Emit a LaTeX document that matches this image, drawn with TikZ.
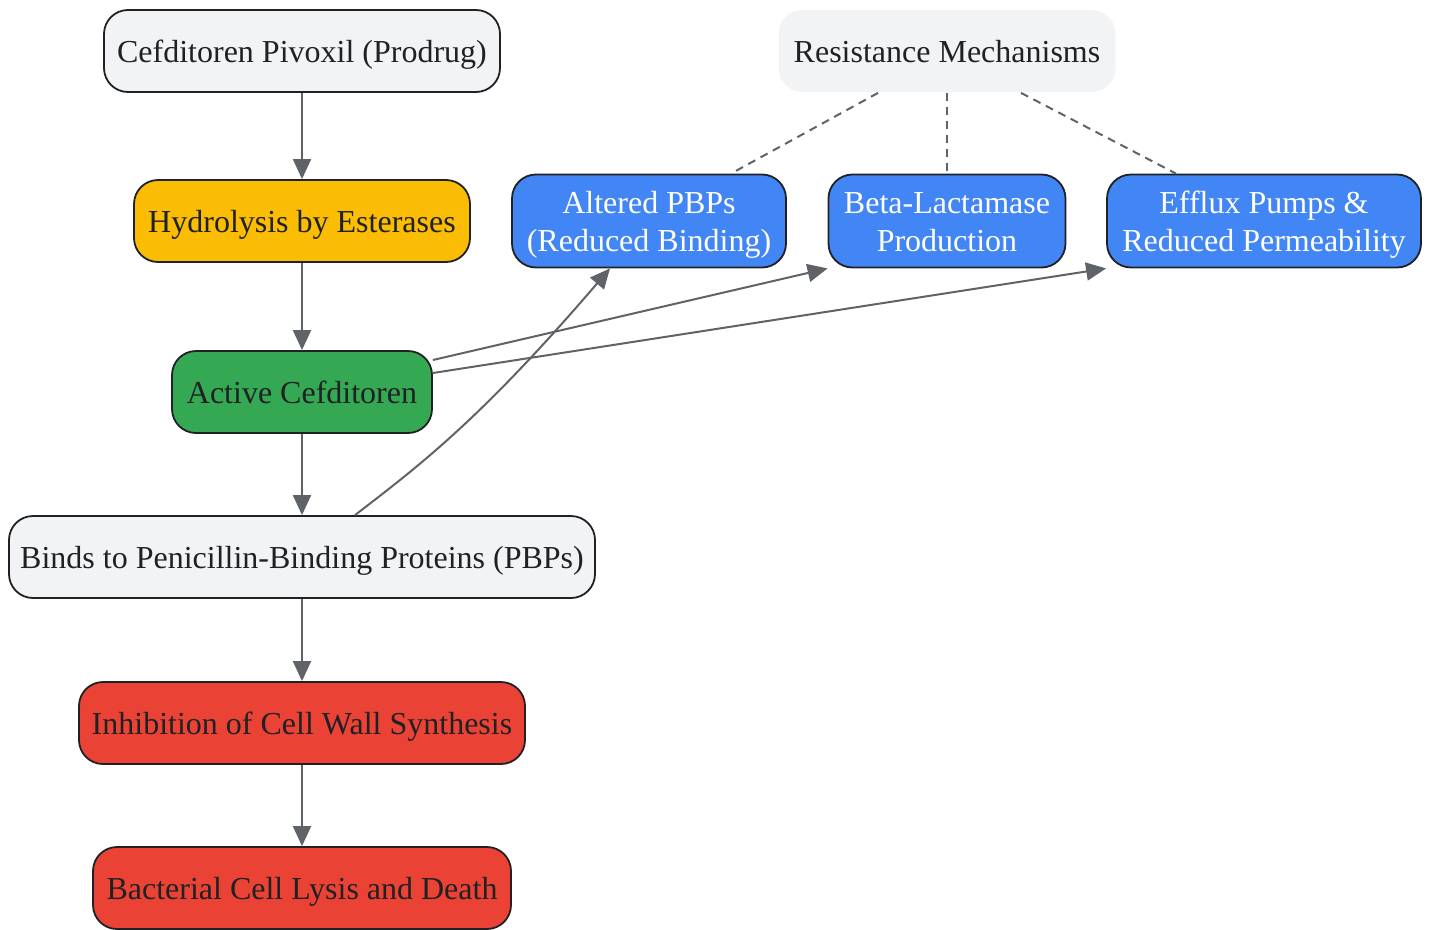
\documentclass[tikz,border=0pt]{standalone}
\usepackage{fontspec}
\setmainfont{Liberation Serif}
\usetikzlibrary{arrows.meta}
\definecolor{gbg}{HTML}{F1F3F4}
\definecolor{gyel}{HTML}{FBBC04}
\definecolor{ggrn}{HTML}{34A853}
\definecolor{gred}{HTML}{EA4335}
\definecolor{gblu}{HTML}{4285F4}
\definecolor{edgec}{HTML}{5F6368}
\definecolor{bordc}{HTML}{202124}
\newcommand\twolines[2]{\raisebox{-4pt}[\height][\depth]{\begin{tabular}{@{}c@{}}#1\\#2\end{tabular}}}
\tikzset{
  box/.style={draw=bordc, line width=1.8pt, rounded corners=24pt, minimum height=82pt,
    align=center, font=\fontsize{32}{38}\selectfont, text=bordc, inner xsep=10pt,
    execute at begin node={\rule{0pt}{32pt}},
    execute at end node={\rule[-9pt]{0pt}{9pt}}},
  bluebox/.style={draw=bordc, line width=1.8pt, rounded corners=24pt, minimum height=93pt,
    font=\fontsize{32}{38}\selectfont, fill=gblu, text=white, inner xsep=10pt},
  flow/.style={draw=edgec, line width=2pt, -{Triangle[length=20pt,width=18pt]}},
  dashedge/.style={draw=edgec, line width=2pt, dash pattern=on 8pt off 6pt},
}
\begin{document}
\begin{tikzpicture}[x=1pt,y=-1pt]
\useasboundingbox (0,0) rectangle (1431,929);
\node[box, fill=gbg, minimum width=396pt] (pro) at (302,51) {Cefditoren Pivoxil (Prodrug)};
\node[box, fill=gyel, minimum width=336pt] (hyd) at (302,221) {Hydrolysis by Esterases};
\node[box, fill=ggrn, minimum width=260pt] (act) at (302,392) {Active Cefditoren};
\node[box, fill=gbg, minimum width=586pt] (bind) at (302,557) {Binds to Penicillin-Binding Proteins (PBPs)};
\node[box, fill=gred, minimum width=446pt] (inh) at (302,723) {Inhibition of Cell Wall Synthesis};
\node[box, fill=gred, minimum width=418pt] (lys) at (302,888) {Bacterial Cell Lysis and Death};
\node[box, draw=none, fill=gbg, minimum width=337pt] (res) at (947,51) {Resistance Mechanisms};
\node[bluebox, minimum width=274pt] (alt) at (649,221) {\twolines{Altered PBPs}{(Reduced Binding)}};
\node[bluebox, minimum width=237pt] (bla) at (947,221) {\twolines{Beta-Lactamase}{Production}};
\node[bluebox, minimum width=314pt] (eff) at (1264,221) {\twolines{Efflux Pumps \&}{Reduced Permeability}};
\draw[flow] (pro) -- (hyd);
\draw[flow] (hyd) -- (act);
\draw[flow] (act) -- (bind);
\draw[flow] (bind) -- (inh);
\draw[flow] (inh) -- (lys);
\draw[dashedge] (res.south -| 878,0) -- (alt.north -| 731,0);
\draw[dashedge] (res) -- (bla);
\draw[dashedge] (res.south -| 1021,0) -- (eff.north -| 1176,0);
\draw[flow] (act.east |- 0,360) -- (bla.south west);
\draw[flow] (act.east |- 0,373) -- (eff.south west);
\draw[flow] (bind.north -| 355,0) .. controls (420,465) and (480,420) .. (alt.south -| 610,0);
\end{tikzpicture}
\end{document}
